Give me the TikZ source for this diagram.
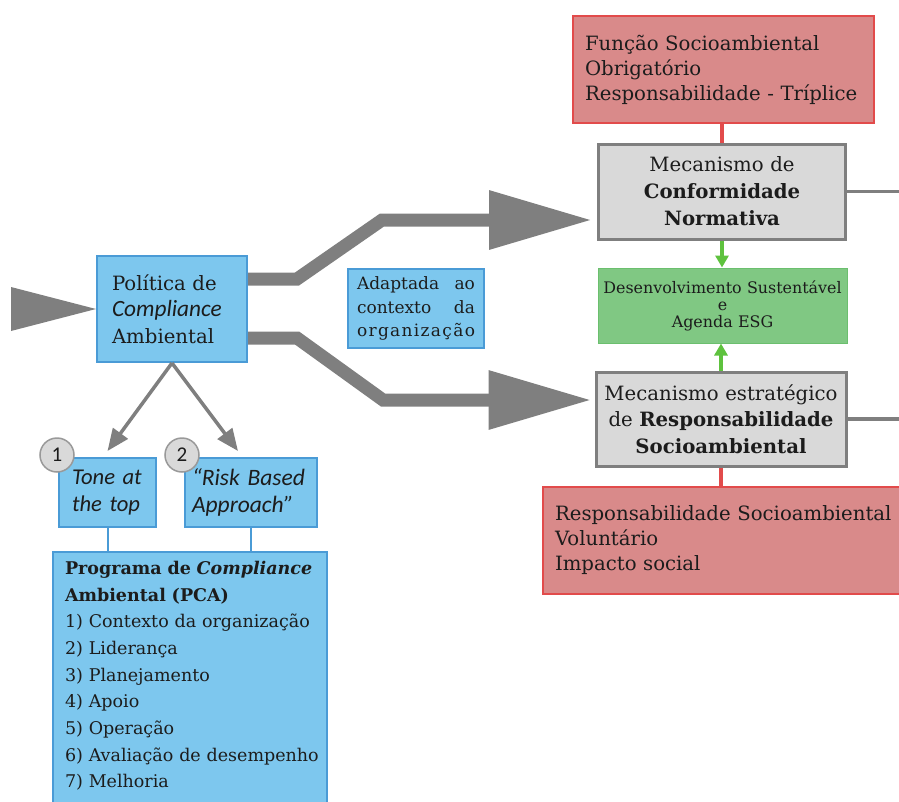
\documentclass[tikz,border=0pt]{standalone}
\usepackage{fontspec}
\setmainfont{DejaVu Serif}
\newfontfamily\calib{Carlito}
\usetikzlibrary{arrows.meta}

\definecolor{boxblue}{HTML}{7DC7EE}
\definecolor{lineblue}{HTML}{4A9BD6}
\definecolor{boxgray}{HTML}{D9D9D9}
\definecolor{edgegray}{HTML}{7F7F7F}
\definecolor{boxred}{HTML}{D98A8A}
\definecolor{edgered}{HTML}{E24B4B}
\definecolor{boxgreen}{HTML}{80C883}
\definecolor{edgegreen}{HTML}{6BBF6E}
\definecolor{arrowgreen}{HTML}{5EC23E}
\definecolor{ink}{HTML}{1C1C1C}

\newcommand{\fsz}[2]{\fontsize{#1}{#2}\selectfont}

\tikzset{
  blueb/.style={draw=lineblue, line width=2pt, fill=boxblue, text=ink, inner ysep=0pt},
  grayb/.style={draw=edgegray, line width=3pt, fill=boxgray, text=ink, inner ysep=0pt},
  redb/.style={draw=edgered, line width=1.5pt, fill=boxred, text=ink, inner ysep=0pt},
  greenb/.style={draw=edgegreen, line width=1pt, fill=boxgreen, text=ink, inner ysep=0pt},
  numcirc/.style={circle, draw=edgegray!80, line width=1.5pt, fill=boxgray, minimum size=34pt,
    inner sep=0pt, text=ink, font=\calib\fsz{21}{24}},
  bigflow/.style={draw=edgegray, line width=13pt, -{Triangle[length=103pt,width=56pt]}},
  smallflow/.style={draw=edgegray, line width=3.5pt, -{Triangle[length=22pt,width=18pt]}},
  greenflow/.style={draw=arrowgreen, line width=4pt, -{Triangle[length=12pt,width=13pt]}},
  redlink/.style={draw=edgered, line width=4pt},
  graylink/.style={draw=edgegray, line width=3.5pt},
  bluelink/.style={draw=lineblue, line width=2pt},
}

\begin{document}
\begin{tikzpicture}[x=1pt,y=-1pt]
\clip (0,0) rectangle (899,801);
\coordinate (rightedge) at (899,0);

% main policy box and its incoming flow
\node[blueb, text width=120pt, inner xsep=15pt, minimum height=106pt, align=left,
      font=\fsz{19.7}{26.5}] (pol) at (172,309)
  {Política de\\{\calib\itshape\fsz{23.3}{26.5}Compliance}\\Ambiental};
\coordinate (inflowtop) at (11,287);
\coordinate (inflowbot) at (11,331);
\fill[edgegray] (inflowtop) -- (pol.west) -- (inflowbot) -- cycle;

% note between the two flows, fully justified lines
\node[blueb, inner xsep=9pt, minimum width=136pt, minimum height=79pt,
      font=\fsz{17}{23.5}] (adapt) at (416,308.5)
  {\vbox{\hsize=118pt
   \hbox to \hsize{Adaptada\hfill ao}%
   \hbox to \hsize{contexto\hfill da}%
   \hbox to \hsize{o\hfill r\hfill g\hfill a\hfill n\hfill i\hfill z\hfill a\hfill ç\hfill ã\hfill o}}};

% right column
\node[redb, text width=277pt, inner xsep=12pt, minimum height=107pt, align=left,
      font=\fsz{19.7}{25}] (fsoc) at (723.5,69.5)
  {Função Socioambiental\\Obrigatório\\Responsabilidade - Tríplice};
\node[grayb, text width=231pt, inner xsep=8pt, minimum height=95pt, align=center,
      font=\fsz{19.7}{27}] (conf) at (722,191.5)
  {Mecanismo de\\\textbf{Conformidade}\\\textbf{Normativa}};
\node[greenb, text width=243pt, inner xsep=3pt, minimum height=75pt, align=center,
      font=\fsz{15.9}{17}] (dev) at (722.5,305.5)
  {Desenvolvimento Sustentável\\e\\Agenda ESG};
\node[grayb, text width=240pt, inner xsep=5pt, minimum height=94pt, align=center,
      font=\fsz{19.7}{26.5}] (resp) at (721,419)
  {Mecanismo estratégico\\de \textbf{Responsabilidade}\\\textbf{Socioambiental}};
\node[redb, text width=343pt, inner xsep=12pt, minimum height=107pt, align=left,
      font=\fsz{19.7}{25}] (soc) at (726.5,540.5)
  {Responsabilidade Socioambiental\\Voluntário\\Impacto social};

\draw[redlink] (conf.north) -- (conf.north |- fsoc.south);
\draw[graylink] (conf.east) -- (conf.east -| rightedge);
\draw[greenflow] (conf.south) -- (conf.south |- dev.north);
\draw[greenflow] (resp.north) -- (resp.north |- dev.south);
\draw[graylink] (resp.east) -- (resp.east -| rightedge);
\draw[redlink] (resp.south) -- (resp.south |- soc.north);

% the two main flows
\draw[bigflow] ([yshift=30pt]pol.east) -- (297,279) -- (382,220)
  -- ([xshift=-5pt,yshift=-28.5pt]conf.west);
\draw[bigflow] ([yshift=-29pt]pol.east) -- (297,338) -- (383,400)
  -- ([xshift=-3pt,yshift=19pt]resp.west);

% lower left: principles and programme
\node[blueb, text width=71pt, inner xsep=13pt, minimum height=69pt, align=left,
      font=\calib\itshape\fsz{22.6}{26.5}] (tone) at (107.5,492.5)
  {Tone at\\the top};
\node[blueb, text width=118pt, inner xsep=7pt, minimum height=69pt, align=left,
      font=\calib\itshape\fsz{23.5}{26.5}] (risk) at (251,492.5)
  {“Risk Based\\Approach”};
\draw[smallflow] (pol.south) -- ([yshift=6pt]tone.north);
\draw[smallflow] (pol.south) -- ([xshift=-13pt,yshift=6pt]risk.north);
\node[numcirc] (n1) at (57,455) {1};
\node[numcirc] (n2) at (182,455) {2};

\node[blueb, anchor=north west, text width=250pt, inner xsep=12pt, inner ysep=9pt,
      align=left, font=\fsz{17.5}{26.7}] (pca) at (52,551)
  {\mbox{\textbf{Programa de \textit{Compliance}}}\\
   \mbox{\textbf{Ambiental (PCA)}}\\
   \mbox{1) Contexto da organização}\\
   \mbox{2) Liderança}\\
   \mbox{3) Planejamento}\\
   \mbox{4) Apoio}\\
   \mbox{5) Operação}\\
   \mbox{6) Avaliação de desempenho}\\
   \mbox{7) Melhoria}\rule[-30pt]{0pt}{30pt}};
\draw[bluelink] (tone.south) -- (tone.south |- pca.north);
\draw[bluelink] (risk.south) -- (risk.south |- pca.north);
\end{tikzpicture}
\end{document}
